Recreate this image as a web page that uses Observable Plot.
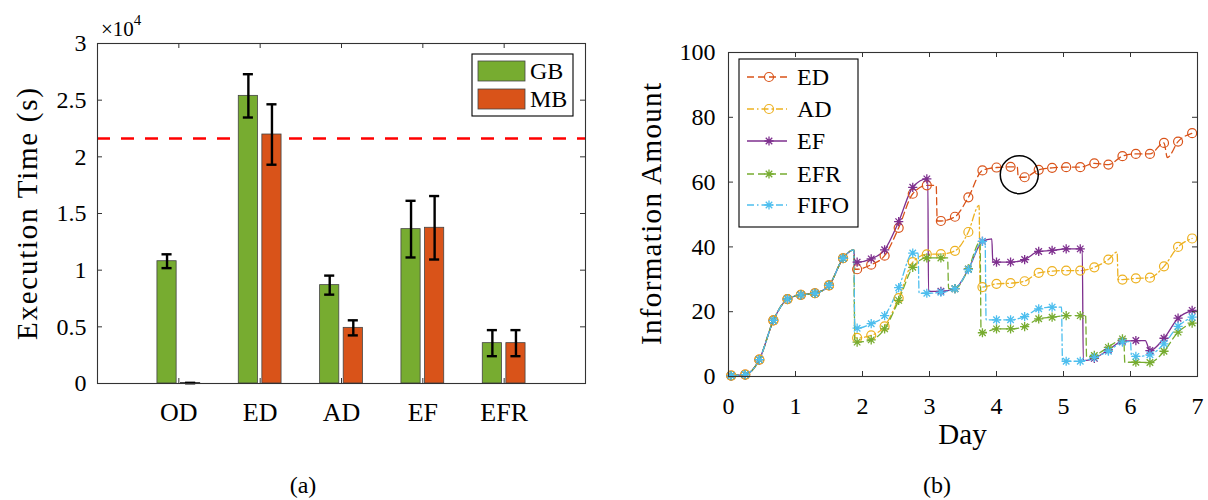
<!DOCTYPE html>
<html>
<head>
<meta charset="utf-8">
<script src="https://cdn.jsdelivr.net/npm/d3@7"></script>
<script src="https://cdn.jsdelivr.net/npm/@observablehq/plot@0.6"></script>
<style>
  body { margin:0; background:#fff; width:1208px; height:500px; position:relative; overflow:hidden; font-family:"Liberation Serif", serif; }
  #a, #b { position:absolute; top:0; }
  #a { left:0; }
  #b { left:604px; }
  .cap { position:absolute; font-size:24px; line-height:24px; top:473px; transform:translateX(-50%); color:#000; }
  svg text { font-family:"Liberation Serif", serif; }
</style>
</head>
<body>
<div id="a"></div>
<div id="b"></div>
<div class="cap" style="left:303px">(a)</div>
<div class="cap" style="left:937px">(b)</div>
<script>
// ---------------- data: panel (a) ----------------
const categories = ["OD", "ED", "AD", "EF", "EFR"];
const gbMean = [10790, 25380, 8680, 13620, 3560];
const gbErr  = [610, 1910, 840, 2500, 1150];
const mbMean = [40, 21970, 4910, 13740, 3560];
const mbErr  = [20, 2665, 665, 2800, 1150];
const threshold = 21620;
const yTicksA = [0, 5000, 10000, 15000, 20000, 25000, 30000];
const seriesA = ["GB", "MB"];

// ---------------- data: panel (b) ----------------
const days = [0.04, 0.25, 0.46, 0.67, 0.88, 1.08, 1.29, 1.5, 1.71, 1.92, 2.13, 2.33, 2.54, 2.75, 2.96, 3.17, 3.38,
              3.58, 3.79, 4.0, 4.21, 4.42, 4.63, 4.83, 5.04, 5.25, 5.46, 5.67, 5.88, 6.08, 6.29, 6.5, 6.71, 6.92];
const edVals   = [0.3, 0.6, 5.2, 17.3, 23.9, 25.2, 25.7, 28.1, 36.5, 33.1, 34.5, 37.3, 45.9, 56.4, 59.0, 48.0, 49.3,
                  55.3, 63.6, 64.5, 64.7, 61.5, 63.8, 64.4, 64.6, 64.6, 65.8, 65.4, 68.0, 68.7, 68.7, 72.1, 72.5, 75.1];
const adVals   = [0.3, 0.6, 5.2, 17.3, 23.9, 25.2, 25.7, 28.1, 36.5, 11.9, 12.7, 15.5, 24.2, 35.3, 37.7, 37.8, 38.8,
                  44.6, 27.6, 28.6, 28.8, 29.4, 32.0, 32.5, 32.7, 32.7, 33.7, 36.1, 29.9, 30.3, 30.5, 34.0, 40.0, 42.6];
const efVals   = [0.3, 0.6, 5.2, 17.3, 23.9, 25.2, 25.7, 28.1, 36.5, 35.3, 36.3, 39.1, 47.8, 58.4, 61.0, 26.3, 27.1,
                  33.1, 41.7, 35.3, 35.3, 36.1, 38.6, 38.9, 39.4, 39.4, 5.6, 8.2, 10.9, 11.1, 8.0, 11.8, 18.0, 20.4];
const efrVals  = [0.3, 0.6, 5.2, 17.3, 23.9, 25.2, 25.7, 28.1, 36.5, 10.6, 11.3, 14.7, 23.5, 33.7, 36.6, 36.6, 27.1,
                  33.2, 13.5, 14.7, 14.7, 15.4, 17.8, 18.3, 18.8, 18.8, 6.5, 9.0, 11.6, 4.4, 4.3, 7.8, 13.7, 16.5];
const fifoVals = [0.3, 0.6, 5.2, 17.3, 23.9, 25.2, 25.7, 28.1, 36.5, 14.9, 16.3, 18.8, 27.4, 38.1, 25.7, 26.0, 27.1,
                  33.0, 41.7, 17.5, 17.5, 18.5, 20.9, 21.4, 4.7, 4.7, 5.9, 7.8, 10.6, 6.2, 6.7, 10.1, 15.5, 18.3];
// extra line vertices between markers (peaks and drops)
const edBends   = [[1.87, 39.1], [1.885, 33.1], [3.10, 59.0], [3.115, 48.0], [4.31, 64.7], [4.325, 61.5], [6.55, 67.6]];
const adBends   = [[1.87, 39.1], [1.885, 11.9], [3.74, 52.8], [3.755, 27.6], [5.80, 38.4], [5.815, 29.9]];
const efBends   = [[1.87, 39.1], [1.885, 35.3], [2.975, 61.0], [2.985, 26.3], [3.93, 42.5], [3.945, 35.3],
                   [5.28, 39.4], [5.295, 4.9], [6.22, 11.1]];
const efrBends  = [[1.87, 39.1], [1.885, 10.6], [3.27, 36.6], [3.285, 27.1], [3.755, 41.5], [3.77, 13.5],
                   [5.33, 18.8], [5.345, 6.0], [5.90, 11.6], [5.915, 4.4]];
const fifoBends = [[1.87, 39.1], [1.885, 14.9], [2.83, 38.1], [2.845, 25.7], [3.83, 41.7], [3.845, 17.5],
                   [4.97, 21.4], [4.985, 4.7], [6.00, 10.8], [6.015, 6.2]];
const seriesNames = ["ED", "AD", "EF", "EFR", "FIFO"];
const circleMark = [4.34, 62.3];
const xTicksB = [0, 1, 2, 3, 4, 5, 6, 7];
const yTicksB = [0, 20, 40, 60, 80, 100];

// ---------------- styles ----------------
const FONT = "Liberation Serif";
const green = "#77AC30", orange = "#D95319";
const styleB = {
  ED:   {color: "#D95319", dash: "7,4",       marker: "circle"},
  AD:   {color: "#EDB120", dash: "7,3,1.5,3", marker: "circle"},
  EF:   {color: "#7E2F8E", dash: null,        marker: "star"},
  EFR:  {color: "#77AC30", dash: "7,4",       marker: "star"},
  FIFO: {color: "#4DBEEE", dash: "7,3,1.5,3", marker: "star"}
};
const star8 = {
  draw(ctx, size) {
    const r = Math.sqrt(size / Math.PI), d = r * Math.SQRT1_2;
    ctx.moveTo(-r, 0); ctx.lineTo(r, 0);
    ctx.moveTo(0, -r); ctx.lineTo(0, r);
    ctx.moveTo(-d, -d); ctx.lineTo(d, d);
    ctx.moveTo(-d, d); ctx.lineTo(d, -d);
  }
};
const addText = (sel, x, y, size, txt) =>
  sel.append("text").attr("x", x).attr("y", y).attr("text-anchor", "start")
    .attr("font-family", FONT).attr("font-size", size).attr("fill", "#000").text(txt);

// ================= panel (a) =================
{
  const W = 600, H = 460, L = 97, R = 585, T = 43, B = 383;
  const bw = 0.236, off = 0.145, cap = 0.062;
  const rows = [];
  categories.forEach((c, i) => {
    rows.push({s: "GB", i: i + 1 - off, v: gbMean[i], e: gbErr[i]});
    rows.push({s: "MB", i: i + 1 + off, v: mbMean[i], e: mbErr[i]});
  });
  const tx = 5 * 6 / (R - L), ty = 5 * 30000 / (B - T);
  const svg = Plot.plot({
    width: W, height: H, marginLeft: L, marginRight: W - R, marginTop: T, marginBottom: H - B,
    x: {domain: [0, 6]},
    y: {domain: [0, 30000]},
    style: {fontFamily: FONT, fontSize: "24px", color: "#000", background: "#fff"},
    marks: [
      Plot.ruleY([threshold], {stroke: "#ff0000", strokeWidth: 2.6, strokeDasharray: "13,11"}),
      Plot.rectY(rows.filter(d => d.s === "GB"), {x1: d => d.i - bw / 2, x2: d => d.i + bw / 2, y1: 0, y2: "v", fill: green, stroke: "#444", strokeWidth: 0.8}),
      Plot.rectY(rows.filter(d => d.s === "MB"), {x1: d => d.i - bw / 2, x2: d => d.i + bw / 2, y1: 0, y2: "v", fill: orange, stroke: "#444", strokeWidth: 0.8}),
      Plot.ruleX(rows, {x: "i", y1: d => d.v - d.e, y2: d => d.v + d.e, stroke: "#000", strokeWidth: 2.4}),
      Plot.ruleY(rows, {y: d => d.v - d.e, x1: d => d.i - cap, x2: d => d.i + cap, stroke: "#000", strokeWidth: 2.4}),
      Plot.ruleY(rows, {y: d => d.v + d.e, x1: d => d.i - cap, x2: d => d.i + cap, stroke: "#000", strokeWidth: 2.4}),
      // inward ticks
      Plot.ruleY(yTicksA, {x1: 0, x2: tx, stroke: "#333"}),
      Plot.ruleY(yTicksA, {x1: 6 - tx, x2: 6, stroke: "#333"}),
      Plot.ruleX([1, 2, 3, 4, 5], {y1: 0, y2: ty, stroke: "#333"}),
      Plot.ruleX([1, 2, 3, 4, 5], {y1: 30000 - ty, y2: 30000, stroke: "#333"}),
      Plot.frame({stroke: "#333", strokeWidth: 1.1}),
      Plot.axisY({ticks: yTicksA, tickFormat: d => String(d / 1e4), tickSize: 0, tickPadding: 11, label: null, fontSize: 24, fontFamily: FONT}),
      Plot.axisX({ticks: [1, 2, 3, 4, 5], tickFormat: i => categories[i - 1], tickSize: 0, tickPadding: 19, label: null, fontSize: 26, fontFamily: FONT})
    ]
  });
  const s = d3.select(svg);
  s.append("text").attr("transform", "translate(27,214) rotate(-90)")
    .attr("text-anchor", "middle").attr("dominant-baseline", "central")
    .attr("font-family", FONT).attr("font-size", 29).attr("fill", "#000")
    .attr("textLength", 252).attr("lengthAdjust", "spacing").text("Execution Time (s)");
  const m = addText(s, 101, 36, 21, "");
  m.append("tspan").text("×10");
  m.append("tspan").attr("font-size", 15).attr("dy", -11).text("4");
  // legend
  const lg = s.append("g");
  lg.append("rect").attr("x", 472).attr("y", 54).attr("width", 101).attr("height", 62).attr("fill", "#fff").attr("stroke", "#000").attr("stroke-width", 1.1);
  [["GB", green, 61], ["MB", orange, 89]].forEach(([t, c, y]) => {
    lg.append("rect").attr("x", 478).attr("y", y).attr("width", 47).attr("height", 20).attr("fill", c).attr("stroke", "#444").attr("stroke-width", 0.8);
    addText(lg, 530, y + 10, 24, t).attr("dominant-baseline", "central");
  });
  document.getElementById("a").append(svg);
}

// ================= panel (b) =================
{
  const W = 604, H = 460, L = 124, R = 593, T = 52, B = 376;
  const build = (vals, bends) => {
    const pts = days.map((d, i) => ({x: d, y: vals[i]}));
    const line = pts.concat(bends.map(([x, y]) => ({x, y}))).sort((a, b) => a.x - b.x);
    return {pts, line};
  };
  const data = {
    ED: build(edVals, edBends), AD: build(adVals, adBends), EF: build(efVals, efBends),
    EFR: build(efrVals, efrBends), FIFO: build(fifoVals, fifoBends)
  };
  const tx = 5 * 7 / (R - L), ty = 5 * 100 / (B - T);
  const marks = [];
  for (const name of seriesNames) {
    const st = styleB[name];
    marks.push(Plot.line(data[name].line, {x: "x", y: "y", curve: "monotone-x", stroke: st.color, strokeWidth: 1.3, strokeDasharray: st.dash}));
  }
  for (const name of seriesNames) {
    const st = styleB[name];
    if (st.marker === "circle")
      marks.push(Plot.dot(data[name].pts, {x: "x", y: "y", r: 4.5, stroke: st.color, fill: "none", strokeWidth: 1.2}));
    else
      marks.push(Plot.dot(data[name].pts, {x: "x", y: "y", r: 4.6, symbol: star8, stroke: st.color, fill: "none", strokeWidth: 1.3}));
  }
  marks.push(Plot.dot([circleMark], {x: d => d[0], y: d => d[1], r: 19, stroke: "#000", fill: "none", strokeWidth: 1.5}));
  marks.push(
    Plot.ruleY(yTicksB, {x1: 0, x2: tx, stroke: "#333"}),
    Plot.ruleY(yTicksB, {x1: 7 - tx, x2: 7, stroke: "#333"}),
    Plot.ruleX(xTicksB, {y1: 0, y2: ty, stroke: "#333"}),
    Plot.ruleX(xTicksB, {y1: 100 - ty, y2: 100, stroke: "#333"}),
    Plot.frame({stroke: "#333", strokeWidth: 1.1}),
    Plot.axisY({ticks: yTicksB, tickFormat: d => String(d), tickSize: 0, tickPadding: 13, label: null, fontSize: 24, fontFamily: FONT}),
    Plot.axisX({ticks: xTicksB, tickFormat: d => String(d), tickSize: 0, tickPadding: 20, label: null, fontSize: 24, fontFamily: FONT})
  );
  const svg = Plot.plot({
    width: W, height: H, marginLeft: L, marginRight: W - R, marginTop: T, marginBottom: H - B,
    x: {domain: [0, 7]}, y: {domain: [0, 100]},
    style: {fontFamily: FONT, fontSize: "24px", color: "#000", background: "#fff"},
    marks
  });
  const s = d3.select(svg);
  s.append("text").attr("transform", "translate(47,214) rotate(-90)")
    .attr("text-anchor", "middle").attr("dominant-baseline", "central")
    .attr("font-family", FONT).attr("font-size", 29).attr("fill", "#000")
    .attr("textLength", 262).attr("lengthAdjust", "spacing").text("Information Amount");
  s.append("text").attr("x", (L + R) / 2).attr("y", 444).attr("text-anchor", "middle")
    .attr("font-family", FONT).attr("font-size", 29).attr("fill", "#000").text("Day");
  // legend
  const lg = s.append("g");
  lg.append("rect").attr("x", 135).attr("y", 59).attr("width", 119).attr("height", 168).attr("fill", "#fff").attr("stroke", "#000").attr("stroke-width", 1.1);
  const rowsY = [77, 109, 141, 174, 205];
  seriesNames.forEach((name, k) => {
    const st = styleB[name], y = rowsY[k];
    lg.append("line").attr("x1", 143).attr("x2", 183).attr("y1", y).attr("y2", y).attr("stroke", st.color).attr("stroke-width", 1.3).attr("stroke-dasharray", st.dash);
    if (st.marker === "circle")
      lg.append("circle").attr("cx", 165).attr("cy", y).attr("r", 4.5).attr("fill", "none").attr("stroke", st.color).attr("stroke-width", 1.2);
    else
      lg.append("path").attr("transform", `translate(165,${y})`).attr("d", d3.symbol(star8, Math.PI * 4.6 * 4.6)()).attr("fill", "none").attr("stroke", st.color).attr("stroke-width", 1.3);
    addText(lg, 193, y, 24, name).attr("dominant-baseline", "central");
  });
  document.getElementById("b").append(svg);
}
</script>
</body>
</html>
